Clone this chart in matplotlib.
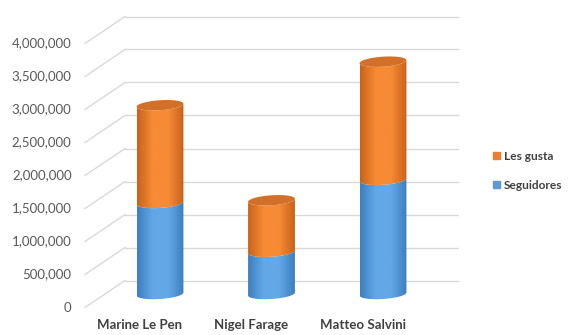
import numpy as np
import matplotlib.pyplot as plt
from matplotlib.patches import Polygon, Patch
from matplotlib.colors import LinearSegmentedColormap

# datos
candidatos = ["Marine Le Pen", "Nigel Farage", "Matteo Salvini"]
seguidores = [1380000, 640000, 1730000]
les_gusta = [1480000, 780000, 1790000]
ticks = [0, 500000, 1000000, 1500000, 2000000, 2500000, 3000000, 3500000, 4000000]

# escala: pixeles por categoria y por unidad de valor
PX = 111.5
PY = 6.6e-5
DX = 20 / PX          # medio fondo en x
DY = 13.5 / PY        # medio fondo en y
ANCHO = 0.21          # radio del cilindro
ELIP = 5 / PY         # semieje vertical de la elipse
TILT = 1.5 / PY       # inclinacion de la elipse

plt.rcParams['font.family'] = ['Lato', 'DejaVu Sans']

fig = plt.figure(figsize=(5.75, 3.35), dpi=100)
ax = fig.add_axes([0, 0, 1, 1])
ax.axis('off')

# cuadricula: lineas del fondo y diagonales al frente
x_back0 = (125 - 160) / PX
x_back1 = (458 - 160) / PX
for v in ticks:
    ax.plot([x_back0, x_back1], [v + DY, v + DY], color='#d9d9d9', lw=1, zorder=1)
    ax.plot([x_back0 - 2 * DX, x_back0], [v - DY, v + DY], color='#d9d9d9', lw=1, zorder=1)
    ax.text(x_back0 - 2 * DX - 0.12, v - DY, f"{v:,}", ha='right', va='center',
            fontsize=9.5, color='#595959')


def arco(cx, y, t):
    x = cx + ANCHO * np.cos(t)
    yy = y + ELIP * np.sin(t) + TILT * np.cos(t)
    return x, yy


def cilindro(cx, y0, y1, c_lado, c_borde, tapa=None):
    t = np.linspace(np.pi, 2 * np.pi, 60)
    xb, yb = arco(cx, y0, t)
    xt, yt = arco(cx, y1, t[::-1])
    pts = np.column_stack([np.r_[xb, xt], np.r_[yb, yt]])
    poly = Polygon(pts, closed=True, facecolor='none', edgecolor='none', zorder=3)
    ax.add_patch(poly)
    cmap = LinearSegmentedColormap.from_list('c', [c_borde, c_lado, c_lado, c_borde])
    grad = np.linspace(0, 1, 100)[None, :]
    im = ax.imshow(grad, cmap=cmap, aspect='auto', zorder=3,
                   extent=[cx - ANCHO, cx + ANCHO, y0 - 2 * ELIP, y1 + 2 * ELIP])
    im.set_clip_path(poly)
    if tapa is not None:
        tt = np.linspace(0, 2 * np.pi, 80)
        xe, ye = arco(cx, y1, tt)
        ax.add_patch(Polygon(np.column_stack([xe, ye]), closed=True,
                             facecolor=tapa, edgecolor='none', zorder=4))


for i, (s, g) in enumerate(zip(seguidores, les_gusta)):
    cilindro(i, 0, s, '#63a8e6', '#3d7fc0')
    cilindro(i, s, s + g, '#f68b35', '#c9621a', tapa='#d2702a')
    ax.text(i - DX, -470000, candidatos[i], ha='center', va='center',
            fontsize=9.5, fontweight='bold', color='#404040')

ax.set_xlim(-160 / PX, (575 - 160) / PX)
ax.set_ylim(-41 / PY, 294 / PY)

handles = [Patch(color='#ed7d31', label='Les gusta'),
           Patch(color='#5b9bd5', label='Seguidores')]
leg = fig.legend(handles=handles, loc='center left', bbox_to_anchor=(0.845, 0.49),
                 frameon=False, handlelength=0.6, handleheight=0.6, handletextpad=0.3,
                 borderaxespad=0.2, labelspacing=1.5, prop={'size': 8.6, 'weight': 'bold'})
for t in leg.get_texts():
    t.set_color('#404040')

fig.savefig('out.png', dpi=100)
